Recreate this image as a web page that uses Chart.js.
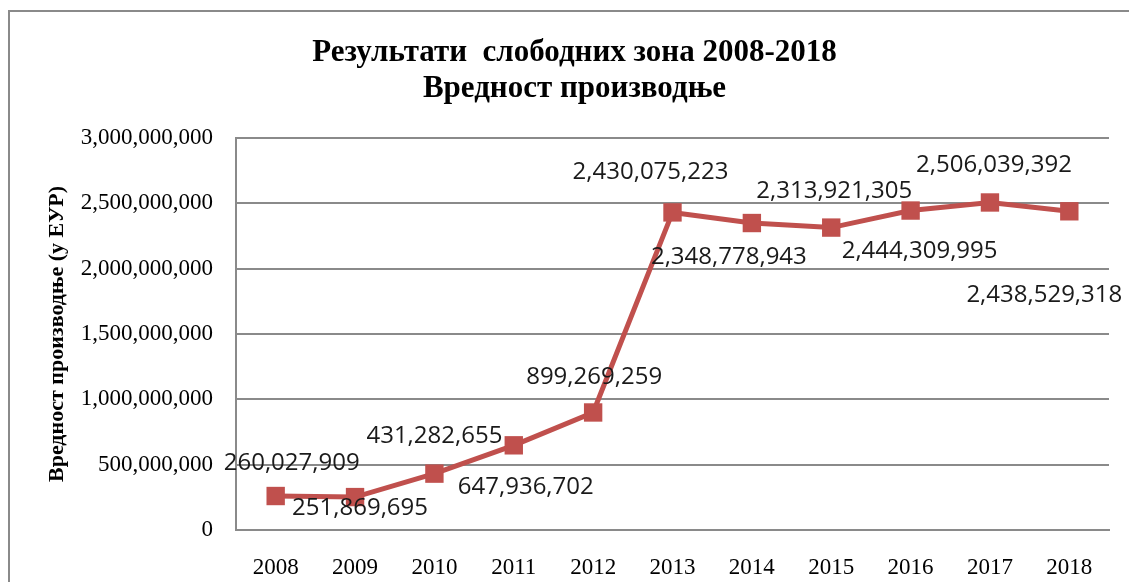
<!DOCTYPE html>
<html>
<head>
<meta charset="utf-8">
<script src="https://cdn.jsdelivr.net/npm/chart.js@4.4.0/dist/chart.umd.min.js"></script>
<style>
  html, body { margin: 0; padding: 0; background: #fff; }
  #wrap { position: relative; width: 1129px; height: 582px; overflow: hidden; }
  #frame { position: absolute; left: 8px; top: 10px; width: 1200px; height: 700px;
           border-left: 2px solid #8a8a8a; border-top: 2px solid #8a8a8a; pointer-events: none; }
  canvas { position: absolute; left: 0; top: 0; }
</style>
</head>
<body>
<div id="wrap">
  <canvas id="myChart" width="1129" height="582"></canvas>
  <div id="frame"></div>
</div>
<script>
'use strict'

let years = ['2008', '2009', '2010', '2011', '2012', '2013', '2014', '2015', '2016', '2017', '2018'];
let production = [260027909, 251869695, 431282655, 647936702, 899269259, 2430075223,
                  2348778943, 2313921305, 2444309995, 2506039392, 2438529318];
let titleLines = ['Результати  слободних зона 2008-2018', 'Вредност производње'];
let yTitle = 'Вредност производње (у ЕУР)';

// where each value label sits relative to its point (dx, dy), like Excel left them
let labelShift = [[16, -33], [5, 11], [0, -37], [12, 42], [1, -35], [-22, -40],
                  [-23, 34], [3, -36], [9, 41], [4, -37], [-25, 84]];

let red = '#C0504D';
let gridGray = '#8a8a8a';

let valueLabels = {
    id: 'valueLabels',
    afterDatasetsDraw(chart) {
        let ctx = chart.ctx;
        let meta = chart.getDatasetMeta(0);
        ctx.save();
        ctx.font = '24px "Open Sans"';
        ctx.fillStyle = '#1a1a1a';
        ctx.textAlign = 'center';
        ctx.textBaseline = 'middle';
        meta.data.forEach(function (pt, i) {
            let txt = production[i].toLocaleString('en-US');
            ctx.fillText(txt, pt.x + labelShift[i][0], pt.y + labelShift[i][1]);
        });
        ctx.restore();
    }
};

let ctx = document.getElementById('myChart').getContext('2d');
let myChart = new Chart(ctx, {
    type: 'line',
    data: {
        labels: years,
        datasets: [{
            data: production,
            borderColor: red,
            backgroundColor: red,
            borderWidth: 5,
            pointStyle: 'rect',
            pointRadius: 13,
            pointBorderWidth: 0,
            tension: 0
        }]
    },
    options: {
        responsive: false,
        animation: false,
        layout: { padding: { left: 40, right: 20, top: 0, bottom: 0 } },
        plugins: {
            legend: { display: false },
            tooltip: { enabled: false },
            title: {
                display: true,
                text: titleLines,
                color: '#000',
                font: { family: '"Liberation Serif"', size: 31, weight: 'bold', lineHeight: 1.16 },
                padding: { top: 35, bottom: 31 }
            }
        },
        scales: {
            x: {
                offset: true,
                grid: { display: false },
                border: { display: true, color: gridGray, width: 2 },
                ticks: {
                    color: '#000',
                    padding: 16,
                    font: { family: '"Liberation Serif"', size: 23 }
                },
                afterFit(scale) { scale.height = 52; }
            },
            y: {
                min: 0,
                max: 3000000000,
                grid: { color: gridGray, lineWidth: 2, drawTicks: false },
                border: { display: true, color: gridGray, width: 2 },
                ticks: {
                    stepSize: 500000000,
                    color: '#000',
                    padding: 23,
                    font: { family: '"Liberation Serif"', size: 23 },
                    callback: function (v) { return v.toLocaleString('en-US'); }
                },
                title: {
                    display: true,
                    text: yTitle,
                    color: '#000',
                    font: { family: '"Liberation Serif"', size: 22, weight: 'bold' },
                    padding: { top: 4, bottom: 0 }
                },
                afterFit(scale) { scale.width = 196; }
            }
        }
    },
    plugins: [valueLabels]
});
</script>
</body>
</html>
